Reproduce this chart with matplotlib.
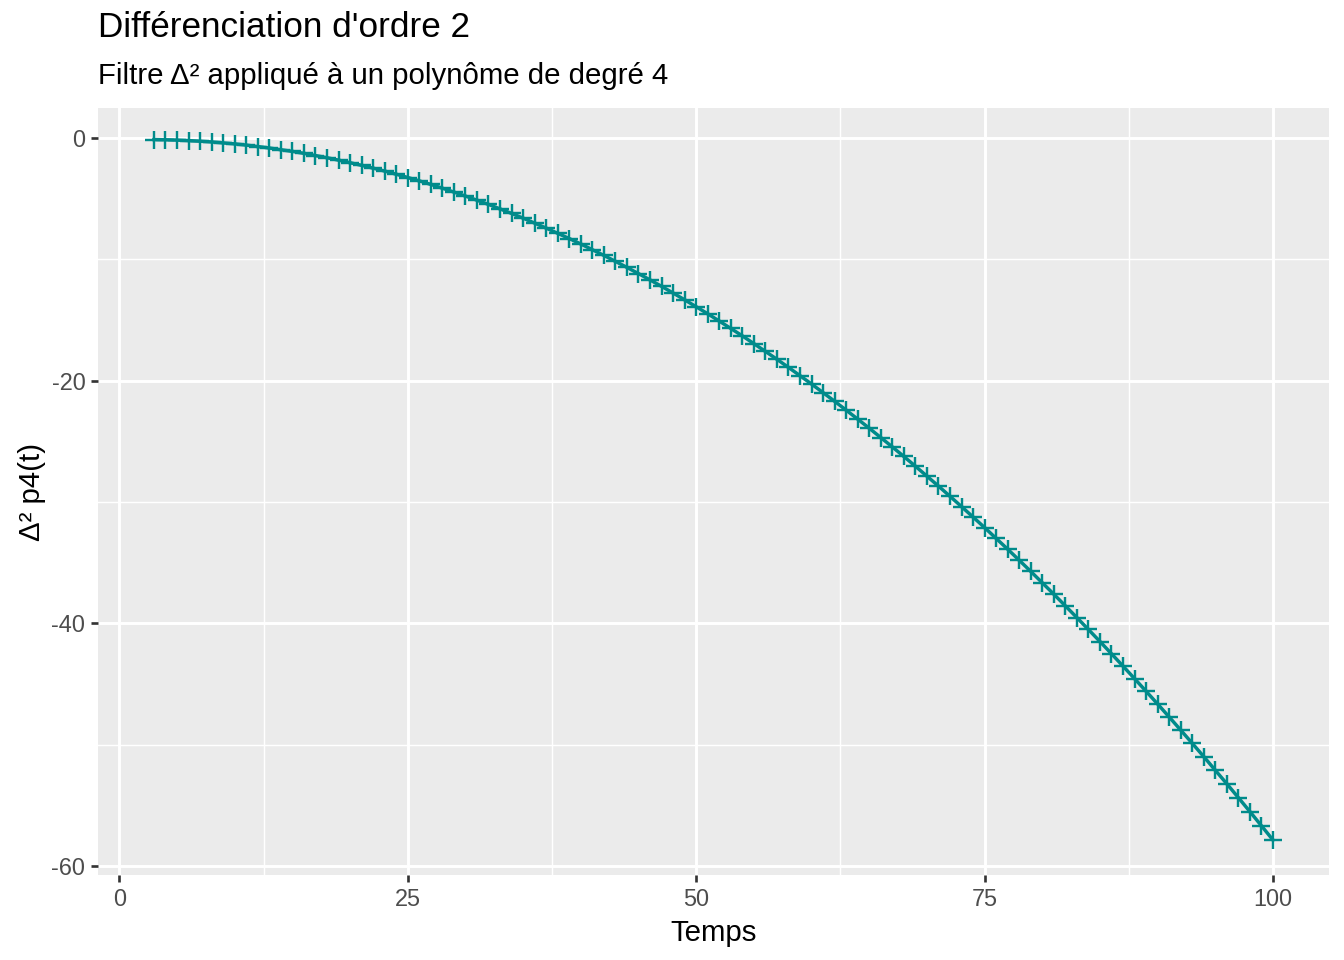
#!/usr/bin/env python3

import matplotlib
matplotlib.use('Agg')
import matplotlib.pyplot as plt
from matplotlib.ticker import MultipleLocator

plt.rcParams['font.family'] = ['Liberation Sans', 'DejaVu Sans']
plt.rcParams['axes.unicode_minus'] = False

# Values (t = 3 .. 100)
temps = list(range(3, 101))
delta2_p4 = [
    -0.12, -0.14, -0.17, -0.21, -0.26, -0.32, -0.40, -0.48, -0.58, -0.70,
    -0.82, -0.96, -1.10, -1.26, -1.44, -1.62, -1.82, -2.03, -2.25, -2.48,
    -2.72, -2.98, -3.25, -3.53, -3.82, -4.13, -4.45, -4.78, -5.12, -5.47,
    -5.84, -6.21, -6.60, -7.01, -7.42, -7.85, -8.28, -8.73, -9.20, -9.67,
    -10.16, -10.66, -11.17, -11.69, -12.22, -12.77, -13.33, -13.90, -14.48, -15.08,
    -15.69, -16.30, -16.94, -17.58, -18.23, -18.90, -19.58, -20.27, -20.98, -21.69,
    -22.42, -23.16, -23.91, -24.68, -25.45, -26.24, -27.04, -27.86, -28.68, -29.52,
    -30.37, -31.23, -32.10, -32.99, -33.88, -34.79, -35.71, -36.65, -37.59, -38.55,
    -39.52, -40.50, -41.49, -42.50, -43.52, -44.55, -45.59, -46.64, -47.71, -48.79,
    -49.88, -50.98, -52.10, -53.22, -54.36, -55.51, -56.68, -57.85,
]
x_ticks = [0, 25, 50, 75, 100]
y_ticks = [0, -20, -40, -60]

fig = plt.figure(figsize=(7, 5), dpi=192)
ax = fig.add_axes([0.0729, 0.0885, 0.9159, 0.799])
ax.set_facecolor('#EBEBEB')
for s in ax.spines.values():
    s.set_visible(False)

# ggplot-like 5% expansion
xr = max(temps) - min(temps)
yr = max(delta2_p4) - min(delta2_p4)
ax.set_xlim(min(temps) - 0.05 * xr, max(temps) + 0.05 * xr)
ax.set_ylim(min(delta2_p4) - 0.05 * yr, max(delta2_p4) + 0.045 * yr)

ax.set_xticks(x_ticks)
ax.set_yticks(y_ticks)
ax.xaxis.set_minor_locator(MultipleLocator(12.5))
ax.yaxis.set_minor_locator(MultipleLocator(10))
ax.grid(which='major', color='white', linewidth=1.1)
ax.grid(which='minor', color='white', linewidth=0.55)
ax.set_axisbelow(True)
ax.tick_params(which='major', length=2.75, width=1.0, color='#333333',
               labelsize=8.8, labelcolor='#4D4D4D', pad=2)
ax.tick_params(which='minor', length=0)

ax.plot(temps, delta2_p4, color='#008B8B', linewidth=1.3,
        marker='+', markersize=6.5, markeredgewidth=0.9)

ax.set_xlabel('Temps', fontsize=11, labelpad=3)
ax.set_ylabel('Δ² p4(t)', fontsize=11, labelpad=2)

fig.text(0.0729, 0.971, "Différenciation d'ordre 2", fontsize=13.2,
         ha='left', va='center')
fig.text(0.0729, 0.921, 'Filtre Δ² appliqué à un polynôme de degré 4',
         fontsize=11, ha='left', va='center')

fig.savefig('out.png', dpi=192)
